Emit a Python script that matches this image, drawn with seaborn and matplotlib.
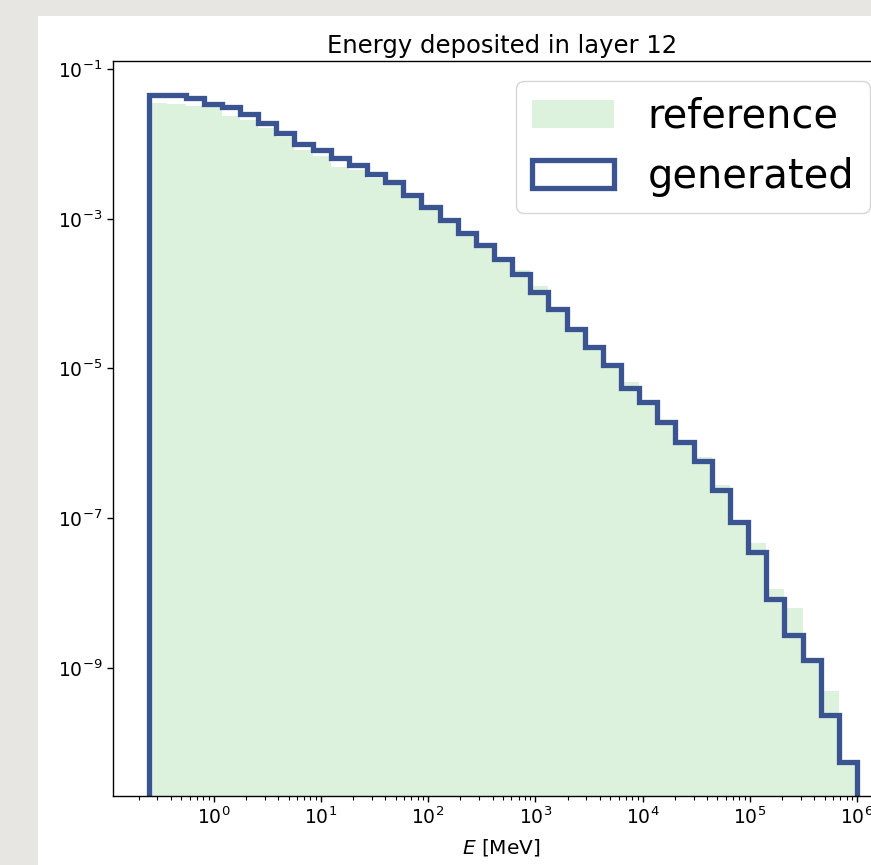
import numpy as np
import pandas as pd
import matplotlib
matplotlib.use("Agg")
import matplotlib.pyplot as plt
import matplotlib.patches as mpatches
import seaborn as sns

# Binning: log-spaced bins of deposited energy (log10 MeV)
log_bin_range = (-0.6, 6.0)
n_bins = 39

# Normalised bin contents, one value per bin (low to high energy)
reference = [
    3.51e-2, 3.44e-2, 3.16e-2, 3.07e-2, 2.38e-2, 2.06e-2, 1.63e-2, 1.23e-2,
    8.36e-3, 6.95e-3, 4.91e-3, 4.42e-3, 3.50e-3, 2.94e-3, 1.97e-3, 1.36e-3,
    9.40e-4, 6.31e-4, 4.23e-4, 2.75e-4, 2.09e-4, 1.25e-4, 5.90e-5, 3.31e-5,
    1.89e-5, 1.09e-5, 6.70e-6, 3.48e-6, 1.88e-6, 1.02e-6, 6.55e-7, 2.79e-7,
    8.93e-8, 4.65e-8, 1.14e-8, 6.30e-9, 1.21e-9, 4.99e-10, 5.40e-11,
]
generated = [
    4.50e-2, 4.50e-2, 4.10e-2, 3.44e-2, 3.10e-2, 2.53e-2, 1.90e-2, 1.40e-2,
    1.00e-2, 8.18e-3, 6.47e-3, 5.26e-3, 3.99e-3, 3.09e-3, 2.05e-3, 1.43e-3,
    9.70e-4, 6.50e-4, 4.40e-4, 2.86e-4, 1.85e-4, 1.05e-4, 6.15e-5, 3.40e-5,
    1.93e-5, 1.10e-5, 5.47e-6, 3.59e-6, 1.92e-6, 1.05e-6, 5.73e-7, 2.39e-7,
    9.03e-8, 3.52e-8, 8.38e-9, 2.79e-9, 1.28e-9, 2.38e-10, 5.51e-11,
]

title = "Energy deposited in layer 12"
xlabel = "$E$ [MeV]"
labels = ["reference", "generated"]
ytick_values = [1e-1, 1e-3, 1e-5, 1e-7, 1e-9]

ref_color = "#dcf2dd"
gen_color = "#3a5391"

plt.rcParams.update({
    "font.family": ["DejaVu Sans"],
    "xtick.labelsize": 13.5,
    "ytick.labelsize": 13.5,
    "axes.linewidth": 1.0,
    "xtick.major.size": 4.3,
    "ytick.major.size": 4.3,
    "xtick.minor.size": 2.6,
    "ytick.minor.size": 2.6,
    "xtick.major.width": 1.0,
    "ytick.major.width": 1.0,
    "xtick.minor.width": 0.8,
    "ytick.minor.width": 0.8,
})

# one sample per bin at the geometric bin centre, weighted by bin content
log_edges = np.linspace(log_bin_range[0], log_bin_range[1], n_bins + 1)
centers = 10 ** (0.5 * (log_edges[:-1] + log_edges[1:]))
df = pd.DataFrame({
    "E": np.concatenate([centers, centers]),
    "w": np.concatenate([reference, generated]),
    "sample": ["reference"] * n_bins + ["generated"] * n_bins,
})

fig = plt.figure(figsize=(8.71, 8.65), dpi=100, facecolor="#e8e6e2")
# white page behind the plot
fig.patches.append(mpatches.Rectangle(
    (38 / 871, 0), 1 - 38 / 871, 1 - 16 / 865, transform=fig.transFigure,
    facecolor="white", edgecolor="none", zorder=-10))

ax = fig.add_axes([113.3 / 871, 69 / 865, 776.7 / 871, 735 / 865])
ax.set_facecolor("white")

sns.histplot(data=df[df["sample"] == "reference"], x="E", weights="w",
             bins=n_bins, binrange=log_bin_range, log_scale=True,
             element="step", fill=True, color=ref_color, alpha=1.0,
             linewidth=0, ax=ax)
sns.histplot(data=df[df["sample"] == "generated"], x="E", weights="w",
             bins=n_bins, binrange=log_bin_range, log_scale=True,
             element="step", fill=False, color=gen_color, linewidth=3.8,
             ax=ax)

ax.set_yscale("log")

# close the step outline down to the axis at both ends, like a step histogram
line = ax.lines[-1]
xs, ys = line.get_data()
xs = np.asarray(xs, dtype=float)
ys = np.asarray(ys, dtype=float)
line.set_data(np.r_[xs[0], xs, xs[-1]], np.r_[1e-30, ys, 1e-30])
line.set_solid_joinstyle("miter")

ax.set_xlim(10 ** -0.935, 10 ** 6.308)
ax.set_ylim(10 ** -10.71, 10 ** -0.893)
ax.set_yticks(ytick_values)
ax.yaxis.set_minor_locator(matplotlib.ticker.NullLocator())

ax.set_title(title, fontsize=17.5, pad=6)
ax.set_xlabel(xlabel, fontsize=14.5, labelpad=6)
ax.set_ylabel("")

handles = [
    mpatches.Patch(facecolor=ref_color, edgecolor="none"),
    mpatches.Patch(facecolor="white", edgecolor=gen_color, linewidth=3.8),
]
ax.legend(handles, labels, loc="upper right", fontsize=28.7,
          handlelength=2.05, handletextpad=0.85, borderaxespad=0.5)

fig.savefig("out.png", dpi=100, facecolor=fig.get_facecolor())
